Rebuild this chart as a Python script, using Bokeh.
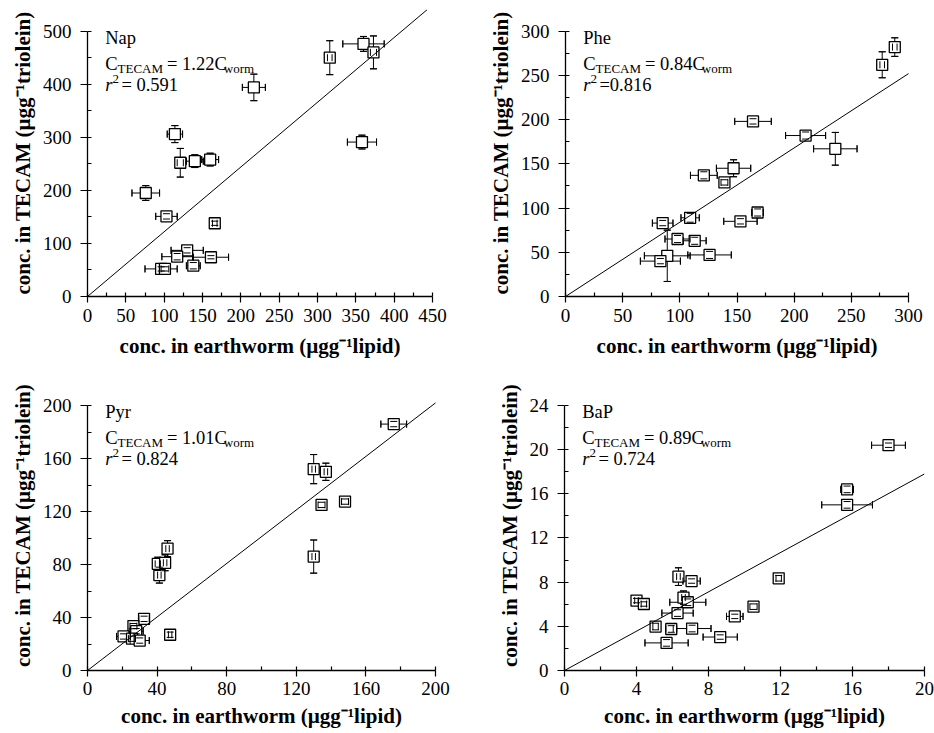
import numpy as np
from bokeh.plotting import figure
from bokeh.models import (ColumnDataSource, Whisker, TeeHead, Label, Range1d,
                          SingleIntervalTicker, Title)
from bokeh.layouts import column, row
from bokeh.embed import file_html
from bokeh.resources import INLINE

FONT = "Liberation Serif"

# ---------------- data ----------------
nap_x = [360, 373, 316, 217, 358, 114, 121, 140, 160, 76, 103, 166, 130, 117, 161, 138, 96, 101]
nap_y = [476, 460, 450, 394, 291, 306, 252, 255, 258, 195, 151, 138, 87, 75, 74, 58, 52, 52]
nap_xerr = [27, 4, 3, 15, 19, 10, 4, 11, 11, 18, 14, 3, 21, 20, 23, 9, 21, 5]
nap_yerr = [14, 31, 32, 25, 13, 16, 27, 12, 12, 14, 5, 4, 5, 6, 3, 6, 4, 4]

phe_x = [288, 277, 164, 210, 236, 147, 121, 139, 168, 153, 109, 85, 98, 113, 126, 89, 83]
phe_y = [282, 262, 198, 182, 167, 145, 137, 129, 95, 85, 89, 83, 65, 63, 47, 46, 40]
phe_xerr = [2, 2, 16, 17.5, 19, 15, 11.7, 3, 5, 14.6, 8, 9, 11, 10, 19, 20, 17.5]
phe_yerr = [10.5, 14.7, 3, 4, 18.5, 9.6, 4, 3, 4, 3, 5, 3, 4, 4, 4, 29, 3]

pyr_x = [176, 130, 137, 134.5, 148, 130, 46, 40.4, 44.6, 41.3, 32.5, 47.5, 26.4, 28, 20.7, 25.6, 30]
pyr_y = [186, 152, 150, 125, 127.5, 86, 92, 80.5, 81.3, 72, 39, 27, 33.5, 29.7, 25.7, 24, 22.6]
pyr_xerr = [7.4, 1, 1, 2, 2, 1, 1, 1.5, 1, 1, 3, 1, 2, 4, 4, 2, 5.5]
pyr_yerr = [2, 11, 6.5, 2, 2, 12.5, 6, 5, 6, 6, 2, 2, 2, 2, 2, 2, 2]

bap_x = [18.0, 15.7, 15.7, 11.9, 10.5, 9.46, 8.65, 6.33, 7.06, 6.61, 6.85, 6.28, 4.0, 4.41, 5.06, 5.93, 7.09, 5.67]
bap_y = [20.4, 16.4, 15.0, 8.35, 5.78, 4.9, 3.03, 8.5, 8.1, 6.6, 6.18, 5.2, 6.33, 6.02, 3.98, 3.76, 3.8, 2.5]
bap_xerr = [0.94, 0.35, 1.41, 0.15, 0.2, 0.46, 0.95, 0.1, 0.48, 0.1, 1.0, 0.87, 0.1, 0.15, 0.15, 0.3, 1.05, 1.2]
bap_yerr = [0.2, 0.3, 0.3, 0.25, 0.25, 0.2, 0.2, 0.8, 0.2, 0.6, 0.3, 0.3, 0.2, 0.2, 0.3, 0.3, 0.3, 0.3]

names = ["Nap", "Phe", "Pyr", "BaP"]
slopes = [1.22, 0.84, 1.01, 0.89]
slope_texts = ["= 1.22C", "= 0.84C", "= 1.01C", "= 0.89C"]
r2_texts = ["= 0.591", "=0.816", "= 0.824", "= 0.724"]
fit_x_end = [443, 302, 202, 20]
x_axis_max = [450, 300, 200, 20]
y_axis_max = [500, 300, 200, 24]
x_tick_step = [50, 50, 40, 4]
y_tick_step = [100, 50, 40, 4]

XLABEL = "conc. in earthworm (\u00b5gg\u207b\u00b9lipid)"
YLABEL = "conc. in TECAM (\u00b5gg\u207b\u00b9triolein)"

# Times-like glyph widths (per 1000 em) for placing pieces of annotation text
W = {'C': 667, 'T': 611, 'E': 611, 'A': 722, 'M': 889, '=': 564, ' ': 250, '.': 250,
     'w': 722, 'o': 500, 'r': 333, 'm': 778}
for d in "0123456789":
    W[d] = 500


def tw(s, size):
    return sum(W.get(c, 500) for c in s) * size / 1000.0


def make_panel(i, xs, ys, xe, ye, width, height, bl, br, bt, bb, y_end,
               xtick_standoff, xlab_standoff, ytitle_offset):
    xs = np.array(xs, float); ys = np.array(ys, float)
    xe = np.array(xe, float); ye = np.array(ye, float)
    p = figure(width=width, height=height, output_backend="svg", toolbar_location=None,
               x_range=Range1d(0, x_axis_max[i]), y_range=Range1d(0, y_end),
               min_border_left=bl, min_border_right=br, min_border_top=bt, min_border_bottom=bb)
    p.outline_line_color = None
    p.grid.visible = False
    p.background_fill_color = "white"
    p.border_fill_color = "white"

    src = ColumnDataSource(dict(x=xs, y=ys, xl=xs - xe, xu=xs + xe, yl=ys - ye, yu=ys + ye))
    for dim, base, lo, up in [("width", "y", "xl", "xu"), ("height", "x", "yl", "yu")]:
        w1 = Whisker(source=src, base=base, lower=lo, upper=up, dimension=dim,
                     line_color="black", line_width=1,
                     upper_head=TeeHead(size=7, line_width=1, line_color="black"),
                     lower_head=TeeHead(size=7, line_width=1, line_color="black"))
        p.add_layout(w1)
        w2 = Whisker(source=src, base=base, lower=lo, upper=up, dimension=dim,
                     line_alpha=0, level="overlay",
                     upper_head=TeeHead(size=7, line_width=1, line_color="black"),
                     lower_head=TeeHead(size=7, line_width=1, line_color="black"))
        p.add_layout(w2)
    p.scatter("x", "y", source=src, marker="square", size=11, fill_color="white",
              line_color="black", line_width=1.3)

    fx = [0, fit_x_end[i]]
    fy = [0, slopes[i] * fit_x_end[i]]
    p.line(fx, fy, line_color="black", line_width=1)

    for ax, step, mx in [(p.xaxis, x_tick_step[i], x_axis_max[i]), (p.yaxis, y_tick_step[i], y_axis_max[i])]:
        ax.ticker = SingleIntervalTicker(interval=step, num_minor_ticks=2)
        ax.bounds = (0, mx)
        ax.axis_line_width = 1.3
        ax.axis_line_color = "black"
        ax.major_tick_line_width = 1.2
        ax.minor_tick_line_width = 1.2
        ax.major_tick_line_color = "black"
        ax.minor_tick_line_color = "black"
        ax.minor_tick_in = 4
        ax.minor_tick_out = 0
        ax.major_tick_in = 0
        ax.major_label_text_font = FONT
        ax.major_label_text_font_size = "19px"
        ax.major_label_text_color = "black"
    p.xaxis.major_tick_out = 6
    p.xaxis.major_label_standoff = xtick_standoff
    p.yaxis.major_tick_out = 7
    p.yaxis.major_label_standoff = 9
    p.xaxis.axis_label = XLABEL
    p.xaxis.axis_label_standoff = xlab_standoff
    p.xaxis.axis_label_text_font = FONT
    p.xaxis.axis_label_text_font_style = "bold"
    p.xaxis.axis_label_text_font_size = "21px"
    p.xaxis.axis_label_text_color = "black"

    # y-axis title, centred on the 0..max axis rather than on the frame
    p.add_layout(Title(text=YLABEL, align="center", offset=ytitle_offset,
                       text_font=FONT, text_font_style="bold", text_font_size="21px",
                       text_color="black"), "left")

    # annotation block
    big, small = 18.5, 13
    x0 = 17.7
    def lab(x, y, t, size, style="normal"):
        p.add_layout(Label(x=x, y=y, x_units="screen", y_units="screen", text=t,
                           text_font=FONT, text_font_size=f"{size}px", text_font_style=style,
                           text_align="left", text_baseline="alphabetic", text_color="black"))
    lab(x0, 258.5, names[i], big)
    xc = x0
    lab(xc, 232.5, "C", big); xc += tw("C", big)
    lab(xc, 228.5, "TECAM", small); xc += tw("TECAM", small) + 4
    lab(xc, 232.5, slope_texts[i], big); xc += tw(slope_texts[i], big) - 3
    lab(xc, 228.5, "worm", small)
    xr = x0
    lab(xr, 211.5, "r", big, "italic"); xr += 389 * big / 1000
    lab(xr, 218, "2", small); xr += 500 * small / 1000 + 2.5
    lab(xr, 211.5, r2_texts[i], big)
    return p


p1 = make_panel(0, nap_x, nap_y, nap_xerr, nap_yerr, 470, 372, 87, 38, 9, 76, 540.8, 6, 9, -12)
p2 = make_panel(1, phe_x, phe_y, phe_xerr, phe_yerr, 464, 372, 95, 26, 9, 76, 324.5, 6, 9, -12)
p3 = make_panel(2, pyr_x, pyr_y, pyr_xerr, pyr_yerr, 470, 361, 87, 35, 8, 63, 218.9, 5, 6, -12)
p4 = make_panel(3, bap_x, bap_y, bap_xerr, bap_yerr, 464, 361, 94, 10, 8, 63, 26.26, 5, 6, -12)

layout = column(row(p1, p2), row(p3, p4))
open("out.html", "w").write(file_html(layout, INLINE))
